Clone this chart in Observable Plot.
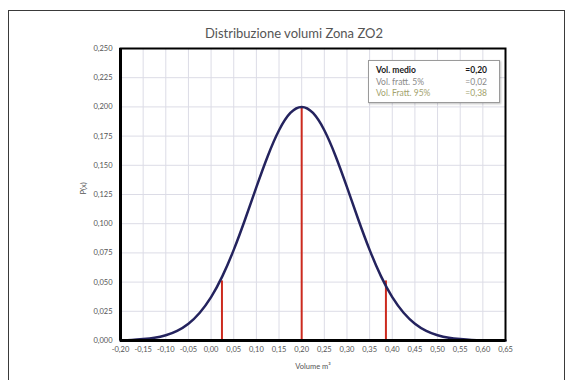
<!DOCTYPE html>
<html>
<head>
<meta charset="utf-8">
<script src="https://cdn.jsdelivr.net/npm/d3@7"></script>
<script src="https://cdn.jsdelivr.net/npm/@observablehq/plot@0.6"></script>
<style>
  html, body { margin: 0; padding: 0; background: #fff; }
  #wrap { position: relative; width: 574px; height: 380px; overflow: hidden; font-family: Lato, "Open Sans", sans-serif; }
  #border { position: absolute; left: 8px; top: 10px; width: 557px; height: 400px; border: 1px solid #3a3a3a; box-sizing: border-box; }
  #legend { position: absolute; left: 368px; top: 60px; width: 132px; height: 43px; border: 1px solid #9a9a9a; background: #fff; box-sizing: border-box; box-shadow: 1px 1px 2px rgba(0,0,0,0.25); font-size: 8.5px; }
  .row { position: absolute; left: 7px; right: 12px; display: flex; justify-content: space-between; }
  svg { position: absolute; left: 0; top: 0; }
</style>
</head>
<body>
<div id="wrap"><div id="border"></div></div>
<script>
// Curve
const volumes = [-0.200,-0.175,-0.150,-0.125,-0.100,-0.075,-0.050,-0.025,0.000,0.025,0.050,0.075,0.100,0.125,0.150,0.175,0.200,0.225,0.250,0.275,0.300,0.325,0.350,0.375,0.400,0.425,0.450,0.475,0.500,0.525,0.550,0.575,0.600,0.625,0.650];
const probs   = [0.0002,0.0005,0.0012,0.0023,0.0045,0.0083,0.0144,0.0238,0.0371,0.0551,0.0776,0.1036,0.1313,0.1578,0.1800,0.1948,0.2000,0.1948,0.1800,0.1578,0.1313,0.1036,0.0776,0.0551,0.0371,0.0238,0.0144,0.0083,0.0045,0.0023,0.0012,0.0005,0.0002,0.0001,0.0000];

// Vertical marker lines (5% fractile, mean, 95% fractile)
const markerX = [0.024, 0.200, 0.386];
const markerY = [0.051, 0.200, 0.051];

// Legend
const legendLabels = ["Vol. medio", "Vol.  fratt. 5%", "Vol. Fratt. 95%"];
const legendValues = ["=0,20", "=0,02", "=0,38"];
const legendColors = ["#1a1a1a", "#8a8a8a", "#a3a36e"];

// Ticks
const xTicks = [-0.20,-0.15,-0.10,-0.05,0.00,0.05,0.10,0.15,0.20,0.25,0.30,0.35,0.40,0.45,0.50,0.55,0.60,0.65];
const yTicks = [0.000,0.025,0.050,0.075,0.100,0.125,0.150,0.175,0.200,0.225,0.250];

const title = "Distribuzione volumi Zona ZO2";
const xLabel = "Volume m³";
const yLabel = "P(x)";

const curve = volumes.map((v, i) => ({x: v, y: probs[i]}));
const markers = markerX.map((v, i) => ({x: v, y: markerY[i]}));

const plot = Plot.plot({
  width: 574,
  height: 380,
  marginLeft: 120,
  marginRight: 69,
  marginTop: 48,
  marginBottom: 40,
  style: {fontFamily: "Lato, 'Open Sans', sans-serif", background: "transparent", overflow: "visible"},
  x: {domain: [-0.2, 0.65]},
  y: {domain: [0, 0.25]},
  marks: [
    Plot.gridX(xTicks, {stroke: "#dcdce6", strokeOpacity: 1}),
    Plot.gridY(yTicks, {stroke: "#dcdce6", strokeOpacity: 1}),
    Plot.axisX({ticks: xTicks, tickSize: 0, tickPadding: 6, fontSize: 7.5, fill: "#555",
      tickFormat: d => d.toFixed(2).replace(".", ","), label: null}),
    Plot.axisY({ticks: yTicks, tickSize: 0, tickPadding: 8, fontSize: 7.5, fill: "#555",
      tickFormat: d => d.toFixed(3).replace(".", ","), label: null}),
    Plot.text([xLabel], {frameAnchor: "bottom", dy: 28, fontSize: 7.5, fill: "#555"}),
    Plot.text([yLabel], {frameAnchor: "left", dx: -37, rotate: -90, fontSize: 7.5, fill: "#555"}),
    Plot.text([title], {frameAnchor: "top", dy: -20, dx: -19, fontSize: 13, fill: "#555"}),
    Plot.ruleX(markers, {x: "x", y1: 0, y2: "y", stroke: "#cc2a1e", strokeWidth: 2}),
    Plot.line(curve, {x: "x", y: "y", curve: "natural", stroke: "#24235e", strokeWidth: 2.5}),
    Plot.frame({stroke: "#000", strokeWidth: 2}),
    Plot.ruleX([-0.2], {stroke: "#000", strokeWidth: 3}),
    Plot.ruleY([0], {stroke: "#000", strokeWidth: 3})
  ]
});

const wrap = document.getElementById("wrap");
wrap.appendChild(plot);

const legend = document.createElement("div");
legend.id = "legend";
legendLabels.forEach((lab, i) => {
  const row = document.createElement("div");
  row.className = "row";
  row.style.top = (4 + i * 11.5) + "px";
  row.style.color = legendColors[i];
  if (i === 0) row.style.fontWeight = "700";
  const a = document.createElement("span"); a.textContent = lab;
  const b = document.createElement("span"); b.textContent = legendValues[i];
  row.appendChild(a); row.appendChild(b);
  legend.appendChild(row);
});
wrap.appendChild(legend);
</script>
</body>
</html>
